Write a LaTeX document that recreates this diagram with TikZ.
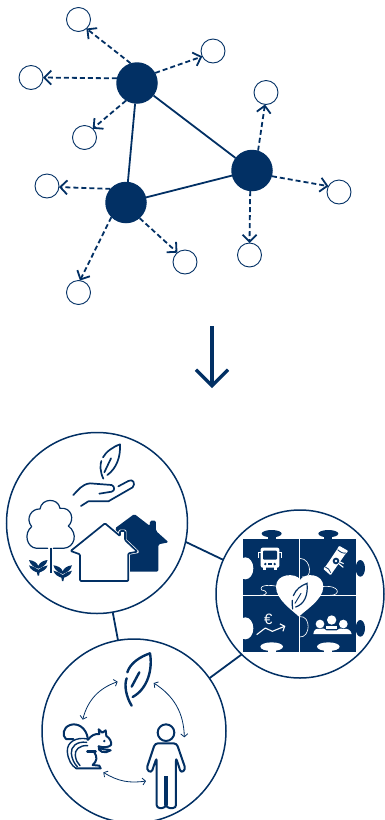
\documentclass[tikz,border=0pt]{standalone}
\usepackage{fontspec}
\setmainfont{Liberation Sans}
\usepackage{xcolor}
\usetikzlibrary{arrows.meta}
\definecolor{navy}{HTML}{023064}

\tikzset{
    sprout/.pic={
        \fill[navy] (-9.3,-7.7) .. controls (-5,-7.3) and (-1,-5) .. (0,-1.7) .. controls (1,-5) and (5,-7.3) .. (9.3,-7.7) .. controls (8.3,-2.7) and (3.3,0) .. (0,1) .. controls (-3.3,0) and (-8.3,-2.7) .. (-9.3,-7.7) -- cycle;
        \fill[navy] (-9.3,-2.3) .. controls (-6,-2) and (-2.7,0) .. (0,2) .. controls (2.7,0) and (6,-2) .. (9.3,-2.3) .. controls (8.3,2) and (3.3,4) .. (1.3,4.7) -- (0.7,8) -- (-0.7,8) -- (-1.3,4.7) .. controls (-3.3,4) and (-8.3,2) .. (-9.3,-2.3) -- cycle;
    }
}

\begin{document}
\begin{tikzpicture}[
    x=1pt, y=-1pt,
    hub/.style={circle, fill=navy, minimum size=41.5pt, inner sep=0pt, outer sep=0pt},
    sat/.style={circle, draw=navy, line width=0.9pt, minimum size=24pt, inner sep=0pt, outer sep=0pt},
    bigdisc/.style={circle, draw=navy, line width=1.5pt, inner sep=0pt, outer sep=0pt},
    link/.style={draw=navy, line width=1.8pt},
    branch/.style={draw=navy, line width=1.8pt, dash pattern=on 5pt off 3pt, -{Straight Barb[length=7pt,width=14pt]}},
    bigarrow/.style={draw=navy, line width=3.3pt, -{Straight Barb[length=16pt,width=32pt]}},
    cycle arrow/.style={draw=navy, line width=0.8pt, {Straight Barb[length=3pt,width=7pt]}-{Straight Barb[length=3pt,width=7pt]}},
    iconline/.style={draw=navy, line width=1.7pt, line cap=round, line join=round},
    iconthick/.style={draw=navy, line width=2.4pt, line cap=round, line join=round},
    puzzleline/.style={draw=white, line width=0.65pt},
    zoomed/.style={shift={#1}, scale=1/3}
]
    \useasboundingbox (0,0) rectangle (385,820);

    % Network
    \node[hub] (hubA) at (137,83) {};
    \node[hub] (hubB) at (252,170.5) {};
    \node[hub] (hubC) at (126,202.5) {};
    \node[sat] (satA) at (78.5,19.5) {};
    \node[sat] (satB) at (213,51) {};
    \node[sat] (satC) at (31,77.5) {};
    \node[sat] (satD) at (84.5,137.5) {};
    \node[sat] (satE) at (266,92.5) {};
    \node[sat] (satF) at (339,192) {};
    \node[sat] (satG) at (249.5,255) {};
    \node[sat] (satH) at (47,186) {};
    \node[sat] (satI) at (185,262) {};
    \node[sat] (satJ) at (78.5,292.5) {};

    \draw[link] (hubA) -- (hubB);
    \draw[link] (hubA) -- (hubC);
    \draw[link] (hubC) -- (hubB);

    \draw[branch] (hubA.108) -- (satA.-49);
    \draw[branch] (hubA.29) -- (satB.207);
    \draw[branch] (hubA.167) -- (satC.0);
    \draw[branch] (hubA.238) -- (satD.47);
    \draw[branch] (hubB.73) -- (satE.265);
    \draw[branch] (hubB.-16) -- (satF.151);
    \draw[branch] (hubB.265) -- (satG.90);
    \draw[branch] (hubC.139) -- (satH.-5);
    \draw[branch] (hubC.-49) -- (satI.129);
    \draw[branch] (hubC.225) -- (satJ.83);

    % Big arrow
    \coordinate (arrowTop) at (212,326);
    \coordinate (arrowEnd) at (212,388);
    \draw[bigarrow] (arrowTop) -- (arrowEnd);

    % Circles
    \node[bigdisc, minimum size=181pt] (discHome) at (97,523) {};
    \node[bigdisc, minimum size=168pt] (discPuzzle) at (300,594) {};
    \node[bigdisc, minimum size=184pt] (discLife) at (134,731) {};
    \draw[link] (discHome.-12) -- (discPuzzle.156);
    \draw[link] (discHome.-80) -- (discLife.100);
    \draw[link] (discLife.35) -- (discPuzzle.226);

    % Home icons
    \begin{scope}[zoomed={(0,425)}]
        \draw[iconline] (310,161) .. controls (300,140) and (300,120) .. (304,108);
        \draw[iconline] (309,97) .. controls (318,80) and (340,65) .. (360,58) .. controls (362,95) and (350,130) .. (322,150);
        \draw[iconline] (313,142) -- (333,100);
        \draw[iconline] (220,210) .. controls (235,195) and (245,178) .. (270,175) -- (335,180) .. controls (345,185) and (345,197) .. (335,200) -- (298,206);
        \draw[iconline] (243,243) -- (265,229) -- (325,229) -- (398,187) .. controls (408,175) and (398,160) .. (385,168) -- (355,184);
        % tree
        \draw[iconline, line width=1.2pt] (143,370) -- (110,370) .. controls (80,368) and (70,325) .. (95,305) .. controls (75,280) and (95,250) .. (120,252) .. controls (125,218) and (175,218) .. (180,250) .. controls (215,245) and (225,285) .. (205,303) .. controls (235,325) and (225,368) .. (190,370) -- (160,370);
        \draw[draw=navy, line width=0.6pt] (150,368) -- (150,445) (155,368) -- (155,445);
    \end{scope}
    \pic at (38.3,567.7) {sprout};
    \pic at (62.7,573) {sprout};
    \begin{scope}[zoomed={(0,425)}]
        % houses
        \fill[navy, rounded corners=1.5pt] (345,310) -- (403,267) -- (450,303) -- (450,287) -- (468,287) -- (468,318) -- (506,352) -- (475,358) -- (475,440) -- (385,440) -- (385,385) -- cycle;
        \draw[draw=white, fill=white, line width=3pt, line join=round] (212,378) -- (315,295) -- (360,333) -- (360,318) -- (375,318) -- (375,345) -- (412,380) -- (385,385) -- (385,468) -- (240,468) -- (240,388) -- cycle;
        \draw[iconline, rounded corners=1pt] (212,378) -- (315,295) -- (360,333) -- (360,318) -- (375,318) -- (375,345) -- (412,380) -- (385,385) -- (385,468) -- (240,468) -- (240,388) -- cycle;
    \end{scope}

    % Puzzle
    \begin{scope}[zoomed={(215,505)}]
        \fill[navy] (85,102) rectangle (422,440);
        \foreach \knobx in {170,340} {
            \fill[navy] (\knobx,86) ellipse [x radius=30, y radius=11];
            \fill[navy] (\knobx-12,90) rectangle (\knobx+12,104);
            \fill[white] (\knobx,425) ellipse [x radius=34, y radius=13];
            \fill[white] (\knobx-12,430) rectangle (\knobx+12,442);
        }
        \foreach \knoby in {190,370} {
            \fill[navy] (436,\knoby) ellipse [x radius=14, y radius=25];
            \fill[white] (91,\knoby) ellipse [x radius=24, y radius=33];
        }
        \draw[puzzleline] (254,102) -- (254,440);
        \draw[puzzleline] (85,271) -- (422,271);
        \draw[puzzleline] (254,160) .. controls (292,160) and (292,228) .. (262,215);
        \draw[puzzleline] (254,335) .. controls (288,330) and (288,398) .. (254,396);
        \draw[puzzleline] (135,271) .. controls (160,271) and (160,258) .. (140,255) .. controls (130,240) and (165,238) .. (190,245);
        \draw[puzzleline] (345,271) .. controls (378,272) and (378,238) .. (318,245);
        % heart
        \fill[white] (252,335) .. controls (235,318) and (183,285) .. (183,245) .. controls (183,205) and (242,202) .. (256,224) .. controls (270,202) and (325,205) .. (325,245) .. controls (325,285) and (267,318) .. (252,335) -- cycle;
        \draw[draw=navy, line width=1.2pt, line cap=round] (235,272) .. controls (243,252) and (258,242) .. (276,235) .. controls (280,270) and (268,298) .. (242,306);
        \draw[draw=navy, line width=1.2pt, line cap=round] (232,286) .. controls (231,295) and (232,304) .. (233,312);
        \draw[draw=navy, line width=0.9pt, line cap=round] (240,295) -- (258,265);
        % bus
        \fill[white, rounded corners=2pt] (137,128) rectangle (193,188);
        \fill[navy, rounded corners=1pt] (144,137) rectangle (186,164);
        \fill[navy] (151,177) circle (4);
        \fill[navy] (179,177) circle (4);
        \fill[navy] (160,174) rectangle (170,180);
        \fill[white] (143,186) rectangle (154,196);
        \fill[white] (176,186) rectangle (187,196);
        \draw[draw=white, line width=1pt] (137,143) -- (130,143) -- (130,158);
        \draw[draw=white, line width=1pt] (193,143) -- (200,143) -- (200,158);
        % diploma
        \fill[white, rounded corners=1pt] (372,122) -- (400,138) -- (392,146) -- (352,203) -- (347,211) -- (324,191) -- (332,184) -- (367,132) -- cycle;
        \draw[draw=navy, line width=0.8pt] (368,134) .. controls (376,142) and (386,146) .. (393,144);
        \draw[draw=navy, line width=0.8pt] (331,186) .. controls (338,188) and (345,195) .. (347,203);
        \fill[navy] (363,168) circle (10);
        \fill[white] (363,168) circle (4);
        \draw[draw=white, line width=1.1pt] (370,175) -- (385,187) (373,170) -- (386,176);
        % euro and growth
        \node[text=white, font=\fontsize{15}{15}\selectfont, inner sep=0pt] (euro) at (160,342) {€};
        \draw[draw=white, line width=1.1pt, line join=round, -{Straight Barb[length=3.5pt,width=8pt]}] (125,389) -- (151,369) -- (172,379) -- (211,363);
        % people
        \fill[white] (350,345) circle (14);
        \fill[white] (315,357) circle (13);
        \fill[white] (385,357) circle (13);
        \fill[white] (295,387) .. controls (296,375) and (303,369) .. (315,372) .. controls (325,369) and (333,372) .. (334,376) -- (366,376) .. controls (368,372) and (375,369) .. (385,372) .. controls (397,369) and (408,375) .. (410,387) -- cycle;
        \fill[white] (334,362) rectangle (366,372);
    \end{scope}

    % Life cycle icons
    \begin{scope}[zoomed={(40,635)}]
        \draw[iconthick] (275,212) .. controls (258,185) and (252,150) .. (260,130);
        \draw[iconthick] (262,112) .. controls (270,85) and (300,65) .. (330,55) .. controls (338,100) and (325,160) .. (278,186);
        \draw[iconthick] (275,155) -- (298,112);
        % person
        \draw[iconline, line width=2pt] (378,293) circle (25);
        \draw[iconline, line width=2pt, rounded corners=3pt] (345,325) -- (410,325) -- (437,403) -- (423,414) -- (408,368) -- (408,519) -- (380,519) -- (378,505) -- (376,519) -- (350,519) -- (350,368) -- (334,414) -- (319,403) -- cycle;
        \fill[navy] (372,424) rectangle (385,510);
        % squirrel
        \draw[iconline, line width=2pt] (143,308) .. controls (138,280) and (115,262) .. (90,270) .. controls (68,278) and (66,302) .. (78,312) -- (100,312);
        \draw[iconline, line width=1.4pt] (143,312) .. controls (110,305) and (80,320) .. (82,350) .. controls (84,375) and (95,392) .. (108,400);
        \draw[iconline, line width=1.4pt] (140,322) .. controls (110,318) and (92,335) .. (94,355) .. controls (96,372) and (102,385) .. (112,395);
        \draw[iconline, line width=1.4pt] (143,332) .. controls (118,330) and (103,345) .. (106,362) .. controls (108,375) and (112,385) .. (120,392);
        \draw[iconline, line width=2pt] (108,400) -- (182,400) -- (178,392) -- (158,390) .. controls (172,378) and (172,365) .. (163,352);
        \draw[iconline, line width=2pt] (143,315) .. controls (155,300) and (165,296) .. (178,297) -- (176,283) -- (187,293) -- (197,286) -- (199,303) .. controls (210,310) and (215,320) .. (213,330) .. controls (205,338) and (190,338) .. (176,334);
        \draw[iconline, line width=2pt] (176,334) .. controls (172,350) and (195,358) .. (212,346) .. controls (200,342) and (190,345) .. (180,340);
        \draw[iconthick] (142,350) -- (167,350);
        \fill[navy] (193,318) circle (4);
        % cycle arrows
        \coordinate (cycleLeafL) at (233,140);
        \coordinate (cycleSquirrelT) at (128,254);
        \coordinate (cycleLeafR) at (341,144);
        \coordinate (cyclePersonT) at (433,307);
        \coordinate (cycleSquirrelB) at (190,412);
        \coordinate (cyclePersonL) at (318,438);
        \draw[cycle arrow] (cycleLeafL) to[bend right=28] (cycleSquirrelT);
        \draw[cycle arrow] (cycleLeafR) to[bend left=28] (cyclePersonT);
        \draw[cycle arrow] (cycleSquirrelB) to[bend right=20] (cyclePersonL);
    \end{scope}
\end{tikzpicture}
\end{document}
